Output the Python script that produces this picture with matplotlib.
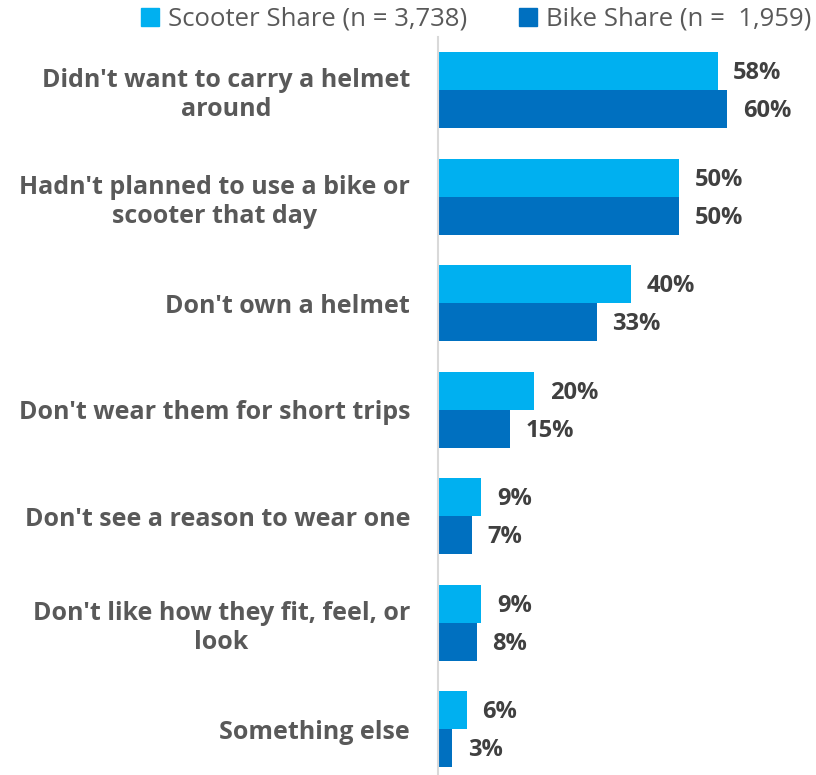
import matplotlib.pyplot as plt
import numpy as np
from matplotlib.patches import Patch

plt.rcParams['font.family'] = ['Open Sans', 'DejaVu Sans']

categories = [
    "Didn't want to carry a helmet\naround",
    "Hadn't planned to use a bike or\nscooter that day",
    "Don't own a helmet",
    "Don't wear them for short trips",
    "Don't see a reason to wear one",
    "Don't like how they fit, feel, or\nlook",
    "Something else",
]
scooter = [58, 50, 40, 20, 9, 9, 6]
bike = [60, 50, 33, 15, 7, 8, 3]
series_names = ["Scooter Share (n = 3,738)", "Bike Share (n =  1,959)"]

c_scooter = "#00B0F0"
c_bike = "#0070C0"
grey = "#595959"
dark = "#404040"

fig = plt.figure(figsize=(8.16, 7.75), dpi=100)
ax = fig.add_axes([438 / 816, 0, 1 - 438 / 816, (775 - 37) / 775])

y = np.arange(len(categories))
h = 0.357
ax.barh(y - h / 2, scooter, height=h, color=c_scooter)
ax.barh(y + h / 2, bike, height=h, color=c_bike)

for yi, s, b in zip(y, scooter, bike):
    ax.text(s + 3.2, yi - h / 2 + 0.02, f"{s}%", va="center", ha="left",
            fontsize=17, fontweight="bold", color=dark)
    ax.text(b + 3.2, yi + h / 2 + 0.02, f"{b}%", va="center", ha="left",
            fontsize=17, fontweight="bold", color=dark)

ax.set_xlim(0, 78.4)
ax.set_ylim(6.43, -0.5)
ax.set_yticks(y)
ax.set_yticklabels(categories, fontsize=18, fontweight="bold", color=grey,
                   multialignment="center")
ax.tick_params(axis="y", length=0, pad=20)
ax.set_xticks([])
for side in ["top", "right", "bottom"]:
    ax.spines[side].set_visible(False)
ax.spines["left"].set_color("#D9D9D9")
ax.spines["left"].set_linewidth(1.5)

handles = [Patch(color=c_scooter), Patch(color=c_bike)]
fig.legend(handles, series_names, loc="center", bbox_to_anchor=(476 / 816, 1 - 19 / 775),
           ncol=2, frameon=False, fontsize=18.5, labelcolor=grey,
           handlelength=0.7, handleheight=0.7, handletextpad=0.35, columnspacing=2.0,
           borderaxespad=0, borderpad=0)

fig.savefig("out.png", dpi=100)
